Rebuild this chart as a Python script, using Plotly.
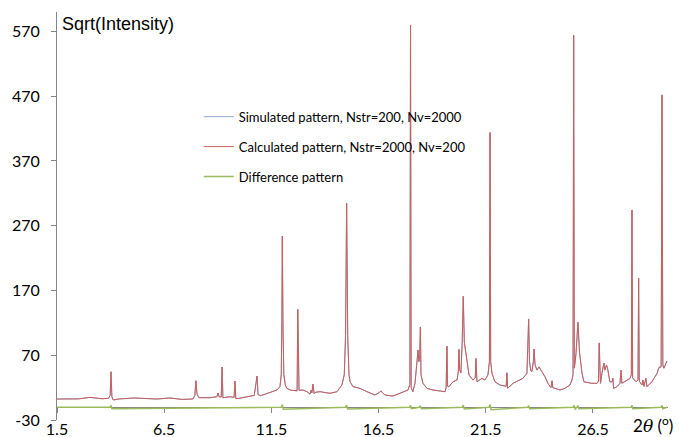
import plotly.graph_objects as go

# ---- data (2theta in degrees, sqrt(intensity)) ----
two_theta = [
    1.50, 2.50, 3.04, 3.60, 3.90, 3.98, 4.02, 4.06, 4.12, 4.40, 5.09, 6.16, 6.77, 7.33,
    7.84, 7.93, 7.98, 8.03, 8.12, 8.64, 8.96, 9.01, 9.06, 9.16, 9.20, 9.24, 9.57, 9.76,
    9.80, 9.84, 10.00, 10.36, 10.70, 10.83, 10.88, 11.00, 11.34, 11.76, 11.90, 11.96,
    11.99, 12.01, 12.04, 12.08, 12.15, 12.22, 12.41, 12.60, 12.70, 12.73, 12.76, 12.79,
    12.97, 13.16, 13.30, 13.35, 13.39, 13.44, 13.49, 13.58, 13.77, 14.23, 14.56, 14.79,
    14.90, 14.96, 15.01, 15.06, 15.12, 15.17, 15.31, 15.63, 15.96, 16.33, 16.52, 16.61,
    16.71, 16.80, 17.17, 17.50, 17.87, 17.96, 17.99, 18.02, 18.10, 18.20, 18.30, 18.34,
    18.38, 18.42, 18.45, 18.48, 18.57, 18.76, 19.04, 19.36, 19.60, 19.65, 19.69, 19.72,
    19.78, 19.97, 20.16, 20.22, 20.25, 20.28, 20.34, 20.40, 20.45, 20.50, 20.62, 20.72,
    20.90, 21.01, 21.04, 21.07, 21.09, 21.32, 21.46, 21.60, 21.67, 21.70, 21.73, 21.79,
    21.93, 22.16, 22.40, 22.45, 22.49, 22.52, 22.77, 23.00, 23.23, 23.42, 23.47, 23.50,
    23.54, 23.60, 23.65, 23.72, 23.75, 23.80, 23.89, 23.98, 24.12, 24.26, 24.40, 24.54,
    24.59, 24.63, 24.73, 24.96, 25.19, 25.43, 25.52, 25.57, 25.60, 25.63, 25.66, 25.71,
    25.80, 25.87, 25.99, 26.08, 26.45, 26.69, 26.76, 26.79, 26.82, 26.85, 26.92, 27.01,
    27.06, 27.13, 27.18, 27.22, 27.29, 27.40, 27.43, 27.46, 27.62, 27.76, 27.81, 27.85,
    28.09, 28.23, 28.29, 28.32, 28.35, 28.51, 28.60, 28.63, 28.66, 28.79, 28.83, 28.88,
    28.97, 29.02, 29.25, 29.49, 29.58, 29.68, 29.72, 29.76, 29.81, 29.95,
]
calculated = [
    2.4, 2.6, 5.0, 2.8, 3.5, 8, 44.5, 6, 0.9, 2.5, 4.0, 2.4, 4.0, 1.8,
    2.4, 8, 30.6, 10, 4.5, 4.4, 6, 11.6, 6, 5.5, 51.8, 4.4, 5.9, 5,
    30.2, 3, 3.5, 5.9, 8, 37.9, 9, 7.5, 11.2, 16.3, 21.4, 40,
    120, 254, 120, 40, 24, 19, 16, 14.8, 15, 141, 18, 16,
    16.3, 13.7, 10, 16, 12, 25.5, 11, 13, 13.7, 11.2, 13.7, 24,
    40, 100, 305, 100, 40, 29, 21.4, 18.9, 13.7, 8.6, 12, 15,
    11, 8.6, 7, 11.2, 16.3, 25, 580, 20, 13.7, 27, 60, 78,
    60, 70, 113.5, 40, 26.6, 18.9, 16.3, 15.3, 13.7, 20, 84, 22,
    21.4, 29, 31.7, 45, 79, 48, 42.5, 90, 161, 90, 58, 39.4,
    31.7, 35, 65, 30, 29, 34.3, 31.7, 39.4, 60, 414, 60, 42,
    29, 24, 21.4, 22, 43, 19, 26.6, 30.6, 34.3, 42, 80, 126,
    60, 46, 44.6, 60, 79.6, 55, 47, 52, 44.6, 36.8, 26.6, 20,
    30.6, 20, 18.9, 16.3, 18.9, 24, 31.7, 40, 564, 50, 57.5, 73,
    121, 75, 42, 29, 26.6, 26.6, 30, 89, 28, 26.6, 42, 58,
    47, 55, 50, 42, 29, 29, 34.8, 18.9, 21.4, 26.6, 47, 26.6,
    31.7, 34.3, 40, 294, 35, 29, 32, 189, 30, 24, 31.7, 22,
    34.3, 21.4, 29, 42, 51.3, 52, 472, 55, 50, 61,
]
simulated = list(calculated)

diff_theta = [
    1.50, 3.98, 4.02, 4.06, 11.96, 12.01, 12.06, 14.96, 15.01, 15.06, 17.95, 17.99,
    18.03, 18.40, 18.45, 18.50, 20.40, 20.45, 20.50, 21.65, 21.70, 21.75, 23.45, 23.50,
    23.55, 25.57, 25.62, 25.67, 25.75, 25.80, 25.85, 28.28, 28.32, 28.36, 29.68, 29.72,
    29.76, 29.95,
]
difference = [
    -10.4, -10.4, -7.5, -12.5, -10.4, -6.5, -13.5, -10.4, -7, -13, -10.4, -7.5,
    -12.5, -10.4, -8, -12.5, -10.4, -7, -13, -10.4, -6, -14, -10.4, -8,
    -12.5, -10.4, -7.5, -13, -10.4, -8, -12.5, -10.4, -7.5, -12.5, -10.4, -7.5,
    -12.5, -10.4,
]

x_ticks = [1.5, 6.5, 11.5, 16.5, 21.5, 26.5]
y_ticks = [-30, 70, 170, 270, 370, 470, 570]

AXIS = "#868686"
FONT = "Lato"

fig = go.Figure()
fig.add_trace(go.Scatter(x=two_theta, y=simulated, mode="lines",
                         name="Simulated pattern, Nstr=200, Nv=2000",
                         line=dict(color="#8FA9D3", width=1), legendgroup="a"))
fig.add_trace(go.Scatter(x=two_theta, y=calculated, mode="lines",
                         name="Calculated pattern, Nstr=2000, Nv=200",
                         line=dict(color="#C95F5C", width=1), legendgroup="b"))
fig.add_trace(go.Scatter(x=diff_theta, y=difference, mode="lines",
                         name="Difference pattern",
                         line=dict(color="#9BBB59", width=1.5), legendgroup="c"))

fig.update_layout(
    width=679, height=437,
    margin=dict(l=57, r=11, t=12, b=17),
    paper_bgcolor="white", plot_bgcolor="white",
    font=dict(family=FONT, size=16, color="#000000"),
    showlegend=True,
    legend=dict(x=0.232, y=0.78, xanchor="left", yanchor="top",
                bgcolor="rgba(0,0,0,0)", font=dict(family=FONT, size=13),
                tracegroupgap=10, itemwidth=30),
    xaxis=dict(range=[1.5, 30], tickvals=x_ticks, ticktext=[str(v) for v in x_ticks],
               showgrid=False, zeroline=False, showline=True, linecolor=AXIS,
               linewidth=1, ticks="outside", ticklen=5, tickcolor=AXIS,
               anchor="free", position=0.032, layer="below traces",
               ticklabelstandoff=3, automargin=False),
    yaxis=dict(range=[-30, 600], tickvals=y_ticks, ticktext=[str(v) for v in y_ticks],
               showgrid=False, zeroline=False, showline=True, linecolor=AXIS,
               linewidth=1, ticks="outside", ticklen=5, tickcolor=AXIS,
               ticklabelstandoff=8, automargin=False),
    annotations=[
        dict(text="Sqrt(Intensity)", xref="paper", yref="paper", x=0.005, y=1.0,
             xanchor="left", yanchor="top", showarrow=False,
             font=dict(family="Liberation Sans", size=18)),
        dict(text="2<span style='font-family:DejaVu Serif'><i>θ</i></span> (<sup>o</sup>)",
             xref="paper", yref="paper", x=0.94, y=-0.012,
             xanchor="left", yanchor="middle", showarrow=False,
             font=dict(family=FONT, size=17)),
    ],
)

fig.write_html("out.html")
